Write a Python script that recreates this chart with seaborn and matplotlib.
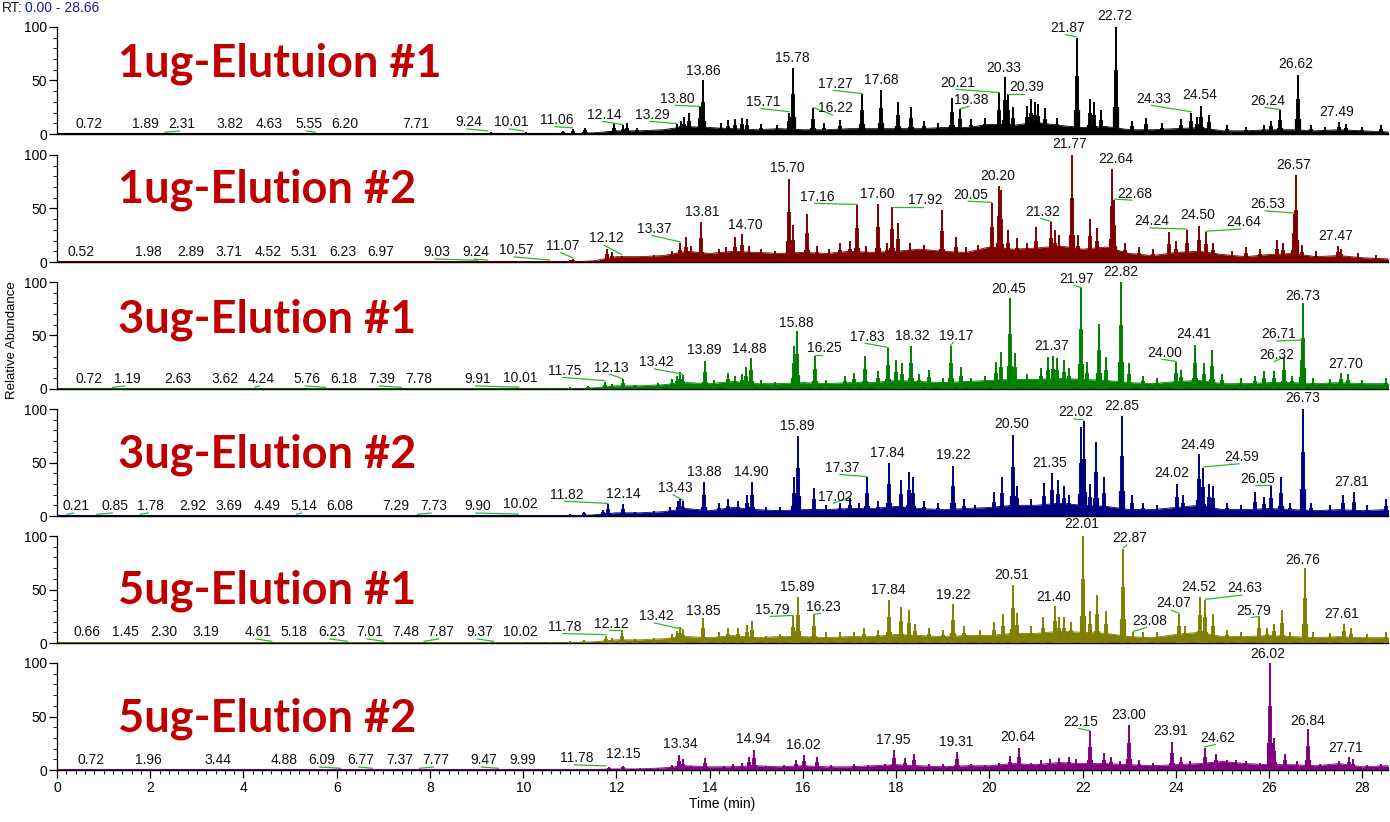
import matplotlib
matplotlib.use("Agg")
import matplotlib.pyplot as plt
import seaborn as sns
from matplotlib.ticker import MultipleLocator

sns.set_theme(style="ticks")
plt.rcParams["font.family"] = ["Liberation Sans", "DejaVu Sans"]

# --- data (RT in min, relative abundance in %) ---
PANEL_NAMES = ["1ug-Elutuion #1", "1ug-Elution #2", "3ug-Elution #1",
               "3ug-Elution #2", "5ug-Elution #1", "5ug-Elution #2"]
TRACE_COLORS = ["#000000", "#800000", "#008000", "#000080", "#808000", "#800080"]

# background "grass" level
FLOOR_T = [0, 11.0, 11.5, 12.0, 12.5, 13.0, 13.5, 14.0, 14.5, 15.0, 15.5, 16.0,
           16.5, 17.0, 17.5, 18.0, 18.5, 19.0, 19.5, 20.0, 20.5, 21.0, 21.5, 22.0,
           22.5, 23.0, 23.5, 24.0, 24.5, 25.0, 25.5, 26.0, 26.5, 27.0, 27.5, 28.0,
           28.5, 28.66]
P1_FLOOR = [0, 0, 1, 3, 3, 4, 7, 6, 5, 4, 5, 4, 4, 5, 5, 5, 5, 6, 6, 9, 8, 11, 8, 6,
            7, 4, 4, 5, 6, 3, 3, 4, 4, 3, 4, 3, 2, 2]
P2_FLOOR = [0, 0, 1, 5, 5, 6, 10, 8, 10, 9, 8, 9, 8, 10, 9, 10, 12, 10, 9, 14, 12, 13,
            15, 12, 14, 8, 6, 9, 10, 7, 5, 7, 8, 5, 6, 4, 3, 3]
P3_FLOOR = [0, 0, 1, 3, 3, 4, 6, 5, 7, 5, 5, 6, 5, 6, 6, 8, 7, 6, 7, 8, 9, 9, 10, 9,
            8, 6, 5, 7, 8, 5, 5, 6, 6, 5, 6, 5, 5, 5]
P4_FLOOR = [0, 0, 1, 3, 3, 4, 7, 5, 8, 6, 5, 6, 6, 7, 7, 9, 7, 6, 7, 8, 10, 10, 12, 10,
            9, 6, 6, 8, 10, 6, 6, 7, 6, 5, 6, 5, 6, 6]
P5_FLOOR = [0, 0, 1, 3, 3, 4, 6, 5, 7, 5, 6, 6, 5, 6, 6, 8, 7, 6, 7, 7, 9, 9, 11, 10,
            9, 6, 5, 8, 10, 6, 6, 7, 6, 5, 6, 5, 5, 5]
P6_FLOOR = [0, 0, 0.5, 1, 1, 2, 4, 3, 3, 4, 3, 4, 3, 3, 4, 5, 4, 3, 4, 4, 6, 5, 7, 6,
            6, 5, 4, 5, 6, 8, 6, 5, 5, 4, 6, 3, 4, 4]

# peaks: (retention time, height)
P1_PEAKS = [(9.30, 2), (10.05, 2), (10.85, 3), (11.06, 5), (11.32, 6), (11.95, 10),
            (12.14, 8), (12.22, 10), (12.45, 6), (13.29, 9), (13.38, 12), (13.45, 16),
            (13.55, 20), (13.80, 25), (13.86, 50), (14.25, 10), (14.40, 13), (14.55, 14),
            (14.70, 15), (14.80, 14), (15.10, 9), (15.45, 8), (15.71, 20), (15.78, 62),
            (16.22, 24), (16.45, 10), (16.80, 13), (17.27, 37), (17.68, 41), (18.05, 30),
            (18.32, 25), (18.60, 12), (18.90, 10), (19.20, 34), (19.38, 23), (19.60, 14),
            (19.90, 15), (20.21, 38), (20.33, 53), (20.39, 37), (20.50, 25), (20.80, 26),
            (20.90, 33), (20.98, 30), (21.05, 28), (21.20, 24), (21.45, 15), (21.87, 90),
            (22.15, 33), (22.25, 30), (22.40, 22), (22.72, 100), (23.05, 12), (23.35, 15),
            (23.70, 10), (24.10, 14), (24.33, 20), (24.45, 16), (24.54, 26), (24.70, 18),
            (25.10, 8), (25.50, 7), (25.90, 8), (26.05, 12), (26.24, 22), (26.62, 55),
            (26.90, 8), (27.20, 7), (27.49, 11), (27.65, 9), (28.00, 7), (28.40, 8)]
P2_PEAKS = [(9.3, 1), (10.6, 1), (11.0, 2), (11.07, 3), (11.8, 12), (11.9, 9), (12.12, 6),
            (12.5, 5), (12.8, 7), (13.2, 10), (13.37, 18), (13.5, 23), (13.6, 15),
            (13.81, 37), (14.2, 12), (14.35, 14), (14.55, 23), (14.70, 26), (14.85, 15),
            (15.1, 12), (15.4, 10), (15.70, 78), (15.78, 35), (16.08, 45), (16.3, 15),
            (16.55, 12), (16.8, 18), (17.0, 20), (17.16, 53), (17.35, 15), (17.60, 54),
            (17.8, 18), (17.92, 51), (18.04, 36), (18.3, 18), (18.6, 16), (18.98, 49),
            (19.29, 23), (19.5, 14), (19.75, 16), (20.05, 55), (20.20, 71), (20.25, 67),
            (20.4, 30), (20.6, 22), (20.8, 18), (21.01, 33), (21.32, 37), (21.40, 30),
            (21.5, 25), (21.77, 100), (21.9, 25), (22.15, 40), (22.3, 32), (22.64, 87),
            (22.68, 58), (22.9, 18), (23.2, 14), (23.5, 12), (23.86, 28), (24.0, 20),
            (24.24, 30), (24.50, 34), (24.64, 28), (24.8, 18), (25.2, 10), (25.5, 14),
            (25.8, 12), (26.17, 21), (26.3, 18), (26.53, 45), (26.57, 81), (26.7, 16),
            (27.0, 10), (27.47, 15), (27.55, 12), (27.9, 8), (28.3, 7)]
P3_PEAKS = [(9.95, 1), (10.6, 1), (11.0, 2), (11.4, 3), (11.75, 7), (11.9, 5), (12.13, 9),
            (12.4, 4), (12.9, 6), (13.2, 9), (13.3, 12), (13.37, 16), (13.42, 13),
            (13.89, 26), (14.1, 8), (14.4, 15), (14.55, 12), (14.7, 14), (14.78, 21),
            (14.88, 29), (15.1, 8), (15.4, 7), (15.80, 40), (15.88, 54), (16.25, 31),
            (16.5, 8), (16.9, 12), (17.1, 15), (17.33, 31), (17.6, 17), (17.83, 38),
            (18.0, 27), (18.12, 24), (18.32, 40), (18.5, 14), (18.7, 18), (19.0, 10),
            (19.17, 40), (19.4, 21), (19.6, 10), (19.9, 12), (20.15, 25), (20.25, 35),
            (20.45, 85), (20.55, 34), (20.8, 14), (21.1, 20), (21.25, 30), (21.37, 31),
            (21.45, 29), (21.6, 27), (21.7, 20), (21.97, 94), (22.1, 25), (22.35, 61),
            (22.5, 30), (22.82, 100), (23.0, 24), (23.3, 12), (23.6, 10), (24.00, 25),
            (24.1, 18), (24.41, 41), (24.6, 24), (24.78, 36), (25.0, 14), (25.4, 10),
            (25.7, 12), (25.9, 17), (26.1, 17), (26.32, 29), (26.5, 12), (26.71, 45),
            (26.73, 80), (26.95, 10), (27.3, 9), (27.55, 15), (27.70, 14), (28.0, 8),
            (28.5, 10)]
P4_PEAKS = [(9.95, 1), (10.6, 1), (11.0, 2), (11.3, 4), (11.72, 6), (11.82, 11),
            (12.14, 11), (12.4, 4), (12.8, 5), (13.15, 8), (13.31, 14), (13.37, 16),
            (13.43, 14), (13.88, 32), (14.2, 12), (14.4, 16), (14.6, 14), (14.8, 20),
            (14.90, 32), (15.2, 8), (15.5, 8), (15.80, 36), (15.89, 75), (16.24, 26),
            (16.5, 10), (16.8, 12), (17.02, 17), (17.2, 12), (17.37, 36), (17.6, 14),
            (17.84, 50), (18.1, 34), (18.27, 41), (18.36, 36), (18.6, 14), (18.9, 12),
            (19.22, 47), (19.45, 16), (19.7, 10), (20.1, 22), (20.28, 36), (20.50, 76),
            (20.6, 28), (20.9, 16), (21.17, 31), (21.35, 40), (21.47, 34), (21.6, 28),
            (21.7, 20), (21.96, 83), (22.02, 89), (22.15, 30), (22.29, 69), (22.45, 36),
            (22.85, 93), (23.05, 20), (23.3, 12), (23.6, 10), (24.02, 30), (24.15, 20),
            (24.49, 58), (24.59, 45), (24.7, 30), (24.8, 28), (25.1, 12), (25.4, 10),
            (25.7, 22), (25.9, 18), (26.05, 28), (26.25, 36), (26.45, 12), (26.73, 100),
            (26.9, 12), (27.3, 10), (27.59, 20), (27.81, 22), (28.1, 10), (28.5, 16)]
P5_PEAKS = [(9.95, 1), (10.6, 1), (11.0, 2), (11.3, 3), (11.78, 7), (11.9, 5), (12.12, 11),
            (12.4, 4), (12.8, 5), (13.2, 8), (13.3, 11), (13.36, 15), (13.42, 12),
            (13.85, 23), (14.2, 10), (14.4, 14), (14.6, 14), (14.8, 17), (14.9, 21),
            (15.2, 7), (15.5, 8), (15.79, 25), (15.89, 43), (16.23, 26), (16.5, 10),
            (16.8, 10), (17.1, 10), (17.3, 14), (17.6, 12), (17.84, 40), (18.1, 34),
            (18.27, 31), (18.4, 18), (18.7, 14), (19.0, 12), (19.22, 36), (19.45, 16),
            (19.8, 12), (20.1, 20), (20.3, 27), (20.51, 54), (20.6, 28), (20.9, 16),
            (21.15, 24), (21.40, 35), (21.5, 24), (21.6, 24), (21.75, 20), (22.01, 100),
            (22.15, 30), (22.31, 45), (22.5, 30), (22.87, 88), (23.08, 10), (23.3, 10),
            (23.6, 10), (24.07, 27), (24.2, 16), (24.52, 43), (24.63, 40), (24.8, 27),
            (25.1, 12), (25.4, 10), (25.79, 24), (25.95, 14), (26.1, 18), (26.27, 31),
            (26.45, 10), (26.76, 70), (26.95, 10), (27.3, 9), (27.61, 18), (27.75, 14),
            (28.1, 8), (28.5, 10)]
P6_PEAKS = [(11.1, 1), (11.85, 3), (12.15, 4), (12.5, 2), (12.9, 2), (13.2, 5), (13.34, 14),
            (13.42, 10), (13.6, 4), (13.91, 11), (14.3, 4), (14.5, 6), (14.7, 7),
            (14.85, 12), (14.94, 19), (15.2, 4), (15.6, 5), (15.85, 9), (16.02, 14),
            (16.3, 12), (16.6, 5), (17.1, 6), (17.4, 5), (17.75, 6), (17.95, 19),
            (18.2, 11), (18.38, 15), (18.7, 6), (19.0, 6), (19.31, 17), (19.6, 6),
            (19.9, 5), (20.2, 7), (20.45, 13), (20.64, 21), (20.9, 7), (21.1, 9),
            (21.3, 10), (21.5, 11), (21.7, 12), (21.85, 10), (22.15, 36), (22.45, 16),
            (22.6, 12), (22.8, 8), (23.00, 42), (23.2, 9), (23.5, 7), (23.91, 26),
            (24.1, 12), (24.3, 8), (24.62, 21), (24.85, 15), (25.1, 9), (25.3, 9),
            (25.5, 8), (25.8, 7), (26.02, 100), (26.1, 30), (26.35, 15), (26.6, 8),
            (26.84, 38), (27.1, 6), (27.5, 8), (27.71, 12), (27.8, 10), (28.1, 5), (28.4, 6)]

# peak annotations: (text, label x, label y)
P1_LABELS = [("0.72", 0.69, 9), ("1.89", 1.89, 9), ("2.31", 2.68, 9), ("3.82", 3.72, 9),
             ("4.63", 4.54, 9), ("5.55", 5.40, 9), ("6.20", 6.17, 9), ("7.71", 7.69, 9),
             ("9.24", 8.84, 11), ("10.01", 9.75, 11), ("11.06", 10.73, 13),
             ("12.14", 11.75, 18), ("13.29", 12.76, 18), ("13.80", 13.31, 33),
             ("13.86", 13.86, 59), ("15.71", 15.15, 30), ("15.78", 15.77, 71),
             ("16.22", 16.69, 24), ("17.27", 16.70, 47), ("17.68", 17.68, 50),
             ("20.21", 19.33, 48), ("19.38", 19.62, 32), ("20.33", 20.30, 62),
             ("20.39", 20.79, 44), ("21.87", 21.68, 99), ("22.72", 22.70, 110),
             ("24.33", 23.52, 33), ("24.54", 24.51, 36), ("26.24", 25.96, 31),
             ("26.62", 26.58, 65), ("27.49", 27.44, 21)]
P2_LABELS = [("0.52", 0.52, 9), ("1.98", 1.96, 9), ("2.89", 2.87, 9), ("3.71", 3.68, 9),
             ("4.52", 4.52, 9), ("5.31", 5.30, 9), ("6.23", 6.14, 9), ("6.97", 6.95, 9),
             ("9.03", 8.15, 9), ("9.24", 8.99, 9), ("10.57", 9.85, 11),
             ("11.07", 10.85, 15), ("12.12", 11.78, 22), ("13.37", 12.81, 31),
             ("13.81", 13.83, 47), ("14.70", 14.77, 35), ("15.70", 15.67, 88),
             ("17.16", 16.30, 61), ("17.60", 17.59, 64), ("17.92", 18.62, 58),
             ("20.05", 19.59, 63), ("20.20", 20.17, 80), ("21.32", 21.15, 47),
             ("21.77", 21.72, 110), ("22.64", 22.70, 96), ("22.68", 23.11, 64),
             ("24.24", 23.49, 38), ("24.50", 24.47, 44), ("24.64", 25.45, 37),
             ("26.53", 25.96, 54), ("26.57", 26.53, 91), ("27.47", 27.43, 24)]
P3_LABELS = [("0.72", 0.69, 9), ("1.19", 1.50, 9), ("2.63", 2.60, 9), ("3.62", 3.60, 9),
             ("4.24", 4.39, 9), ("5.76", 5.37, 9), ("6.18", 6.16, 9), ("7.39", 6.97, 9),
             ("7.78", 7.77, 9), ("9.91", 9.03, 9), ("10.01", 9.94, 10),
             ("11.75", 10.90, 17), ("12.13", 11.90, 20), ("13.42", 12.86, 25),
             ("13.89", 13.89, 36), ("14.88", 14.86, 37), ("15.88", 15.86, 62),
             ("16.25", 16.47, 38), ("17.83", 17.38, 49), ("18.32", 18.34, 50),
             ("19.17", 19.28, 50), ("20.45", 20.42, 93), ("21.37", 21.34, 40),
             ("21.97", 21.86, 103), ("22.82", 22.81, 109), ("24.00", 23.75, 34),
             ("24.41", 24.38, 51), ("26.71", 26.21, 51), ("26.32", 26.16, 32),
             ("26.73", 26.73, 87), ("27.70", 27.65, 23)]
P4_LABELS = [("0.21", 0.41, 9), ("0.85", 1.24, 9), ("1.78", 2.01, 9), ("2.92", 2.91, 9),
             ("3.69", 3.68, 9), ("4.49", 4.50, 9), ("5.14", 5.30, 9), ("6.08", 6.07, 9),
             ("7.29", 7.27, 9), ("7.73", 8.08, 9), ("9.90", 9.03, 9), ("10.02", 9.94, 11),
             ("11.82", 10.94, 20), ("12.14", 12.15, 21), ("13.43", 13.26, 26),
             ("13.88", 13.89, 41), ("14.90", 14.90, 41), ("15.89", 15.87, 84),
             ("17.02", 16.70, 18), ("17.37", 16.84, 45), ("17.84", 17.82, 59),
             ("19.22", 19.22, 57), ("20.50", 20.48, 86), ("21.35", 21.30, 50),
             ("22.02", 21.86, 97), ("22.85", 22.83, 103), ("24.02", 23.92, 40),
             ("24.49", 24.46, 66), ("24.59", 25.41, 55), ("26.05", 25.75, 35),
             ("26.73", 26.71, 110), ("27.81", 27.76, 32)]
P5_LABELS = [("0.66", 0.64, 10), ("1.45", 1.46, 10), ("2.30", 2.30, 10), ("3.19", 3.20, 10),
             ("4.61", 4.31, 10), ("5.18", 5.09, 10), ("6.23", 5.90, 10), ("7.01", 6.70, 10),
             ("7.48", 7.48, 10), ("7.87", 8.24, 10), ("9.37", 9.06, 10),
             ("10.02", 9.95, 10), ("11.78", 10.90, 15), ("12.12", 11.90, 18),
             ("13.42", 12.86, 25), ("13.85", 13.86, 30), ("15.79", 15.35, 31),
             ("15.89", 15.87, 52), ("16.23", 16.43, 34), ("17.84", 17.84, 50),
             ("19.22", 19.22, 45), ("20.51", 20.48, 64), ("21.40", 21.37, 43),
             ("22.01", 21.97, 111), ("22.87", 23.00, 98), ("23.08", 23.43, 21),
             ("24.07", 23.95, 37), ("24.52", 24.49, 52), ("24.63", 25.47, 51),
             ("25.79", 25.67, 30), ("26.76", 26.73, 78), ("27.61", 27.56, 27)]
P6_LABELS = [("0.72", 0.74, 9), ("1.96", 1.96, 9), ("3.44", 3.45, 9), ("4.88", 4.88, 9),
             ("6.09", 5.68, 9), ("6.77", 6.52, 9), ("7.37", 7.36, 9), ("7.77", 8.13, 9),
             ("9.47", 9.15, 9), ("9.99", 9.99, 9), ("11.78", 11.14, 11),
             ("12.15", 12.15, 15), ("13.34", 13.36, 24), ("14.94", 14.94, 29),
             ("16.02", 16.02, 23), ("17.95", 17.93, 28), ("19.31", 19.29, 26),
             ("20.64", 20.61, 31), ("22.15", 21.96, 45), ("23.00", 22.99, 51),
             ("23.91", 23.89, 36), ("24.62", 24.90, 30), ("26.02", 25.98, 108),
             ("26.84", 26.82, 46), ("27.71", 27.65, 21)]

FLOORS = [P1_FLOOR, P2_FLOOR, P3_FLOOR, P4_FLOOR, P5_FLOOR, P6_FLOOR]
PEAKS = [P1_PEAKS, P2_PEAKS, P3_PEAKS, P4_PEAKS, P5_PEAKS, P6_PEAKS]
LABELS = [P1_LABELS, P2_LABELS, P3_LABELS, P4_LABELS, P5_LABELS, P6_LABELS]
NAME_BASE = [54, 56, 53, 45, 37, 36]   # baseline of the big sample names

# --- layout (pixel based, 1390 x 822) ---
W, H = 1390, 822
fig = plt.figure(figsize=(W / 100, H / 100), dpi=100)
fig.patch.set_facecolor("white")

LEFT, RIGHT = 57, 1388
BASES = [134, 262, 389, 516, 643, 770]
PANEL_H = 107
LEADER = "#2fb52f"

for i in range(6):
    rect = [LEFT / W, 1 - BASES[i] / H, (RIGHT - LEFT) / W, PANEL_H / H]
    ax = fig.add_axes(rect)
    ax.set_facecolor("white")
    col = TRACE_COLORS[i]

    # grass
    ax.fill_between(FLOOR_T, 0, FLOORS[i], color=col, lw=0)
    sns.lineplot(x=FLOOR_T, y=FLOORS[i], ax=ax, color=col, lw=0.6)
    ax.axhline(0, color=col, lw=2.2, zorder=2)

    # peaks
    rts = [p[0] for p in PEAKS[i]]
    hts = [p[1] for p in PEAKS[i]]
    ax.vlines(rts, 0, hts, color=col, lw=1.4, zorder=3)
    ax.vlines(rts, 0, [h * 0.6 for h in hts], color=col, lw=2.8, zorder=3)
    ax.vlines(rts, 0, [h * 0.25 for h in hts], color=col, lw=4.5, zorder=3)

    # peak labels + green leader lines
    for txt, lx, ly in LABELS[i]:
        rt = float(txt)
        near = sorted((abs(r - rt), h) for r, h in PEAKS[i] if abs(r - rt) < 0.08)
        ph = near[0][1] if near else 0.8
        if abs(lx - rt) > 0.1 or ly - ph > 16:
            ax.plot([lx - 0.05, rt], [ly - 6.2, ph + 0.8], color=LEADER, lw=0.9,
                    zorder=4, clip_on=False)
        ax.text(lx, ly, txt, ha="center", va="center", fontsize=10,
                color="#111111", zorder=5, clip_on=False)

    # big sample name
    ax.text(1.31, NAME_BASE[i], PANEL_NAMES[i], ha="left", va="baseline",
            fontsize=32.5, fontweight="bold", color="#C00000",
            family=["Lato", "DejaVu Sans"], zorder=6)

    ax.set_xlim(0, 28.55)
    ax.set_ylim(0, 100)
    ax.set_yticks([0, 50, 100])
    ax.yaxis.set_minor_locator(MultipleLocator(10))
    ax.tick_params(axis="y", which="major", length=6, width=0.9, labelsize=10,
                   pad=1, colors="black")
    ax.tick_params(axis="y", which="minor", length=3, width=0.8)
    sns.despine(ax=ax, top=True, right=True)
    ax.spines["left"].set_color("black")
    ax.spines["bottom"].set_color("black")
    ax.spines["left"].set_linewidth(0.9)
    ax.spines["bottom"].set_linewidth(1.0)
    ax.grid(False)
    if i < 5:
        ax.set_xticks([])
    else:
        ax.set_xticks(range(0, 29, 2))
        ax.xaxis.set_minor_locator(MultipleLocator(0.2))
        ax.tick_params(axis="x", which="major", length=6, width=0.9, labelsize=10,
                       pad=2, colors="black")
        ax.tick_params(axis="x", which="minor", length=3, width=0.8)
        ax.set_xlabel("Time (min)", fontsize=10, labelpad=1, color="black")
    ax.set_ylabel("")

fig.text(12 / W, 1 - 340 / H, "Relative Abundance", rotation=90, ha="center",
         va="center", fontsize=9.5, color="black")
fig.text(2 / W, 1 - 1 / H, "RT:", ha="left", va="top", fontsize=10, color="#222222")
fig.text(25 / W, 1 - 1 / H, "0.00 - 28.66", ha="left", va="top", fontsize=10,
         color="#1a1aa6")

fig.savefig("out.png", dpi=100, facecolor="white")
